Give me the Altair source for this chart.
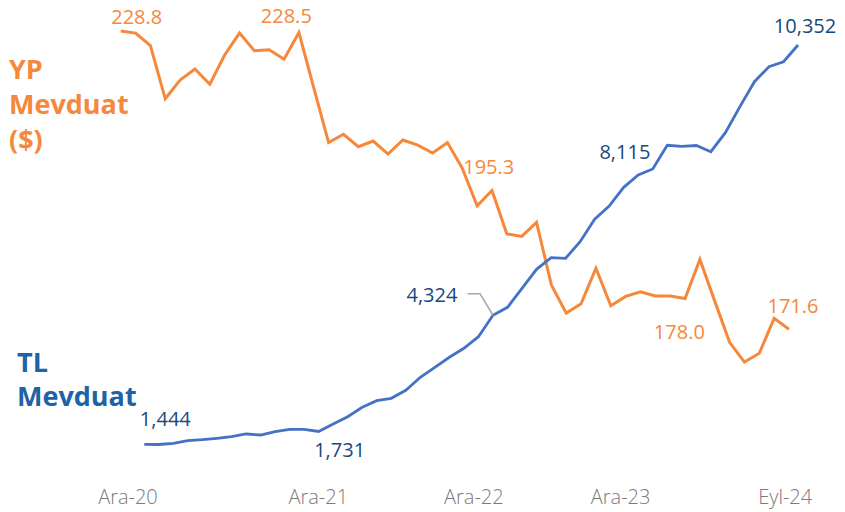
import altair as alt
import pandas as pd

# Monthly series, Ara-20 (Dec 2020) .. Eyl-24 (Sep 2024)
months = list(range(46))
yp_values = [228.8, 228.4, 226.0, 215.8, 219.4, 221.5, 218.6, 224.2, 228.4, 225.0, 225.2, 223.4,
             228.5, 217.9, 207.4, 209.0, 206.6, 207.7, 205.2, 207.9, 206.9, 205.4, 207.4, 202.5,
             195.3, 198.2, 189.9, 189.4, 192.1, 180.1, 174.7, 176.5, 183.3, 176.1, 177.9, 178.8,
             178.0, 178.0, 177.5, 185.0, 177.0, 169.1, 165.3, 167.0, 173.7, 171.6]
tl_values = [1444, 1440, 1466, 1524, 1547, 1578, 1614, 1674, 1651, 1725, 1779, 1779,
             1731, 1897, 2060, 2269, 2417, 2470, 2650, 2939, 3162, 3385, 3586, 3844,
             4324, 4500, 4924, 5348, 5607, 5594, 5964, 6464, 6760, 7177, 7452, 7586,
             8115, 8090, 8110, 7972, 8395, 8976, 9533, 9868, 9979, 10352]
tick_positions = [-1.16, 11.94, 22.65, 32.75, 44.08]
tick_labels = ["Ara-20", "Ara-21", "Ara-22", "Ara-23", "Eyl-24"]
yp_label_months = [0, 12, 24, 36, 45]
tl_label_months = [0, 12, 24, 36, 45]
leader_x = [22.26, 23.11, 24]
leader_y = [4804, 4804, 4324]

ORANGE = "#F5883A"
BLUE_LINE = "#4472C4"
BLUE_TEXT = "#17497F"
BLUE_TITLE = "#1E62A8"
FONT = "Open Sans"

df = pd.DataFrame({"m": months, "yp": yp_values, "tl": tl_values})

W, H = 829, 466
x_or = alt.Scale(domain=[-7.589, 48.232], nice=False, zero=False)
x_bl = alt.Scale(domain=[-9.383, 47.683], nice=False, zero=False)
y_or = alt.Scale(domain=[143.85, 233.21], nice=False, zero=False)
y_bl = alt.Scale(domain=[781.4, 11177.4], nice=False, zero=False)

expr = "''"
for p, l in reversed(list(zip(tick_positions, tick_labels))):
    expr = f"abs(datum.value - {p}) < 0.5 ? '{l}' : " + expr

x_axis = alt.Axis(values=tick_positions, labelExpr=expr, domain=False, ticks=False, grid=False,
                  labelFont=FONT, labelFontSize=20, labelFontWeight=300, labelColor="#7A7A7A",
                  labelPadding=13, title=None, orient="bottom", labelFlush=False, labelOverlap=False)

base = alt.Chart(df)

orange_line = base.mark_line(color=ORANGE, strokeWidth=3).encode(
    x=alt.X("m:Q", scale=x_or, axis=None),
    y=alt.Y("yp:Q", scale=y_or, axis=None),
)
blue_line = base.mark_line(color=BLUE_LINE, strokeWidth=2.8).encode(
    x=alt.X("m:Q", scale=x_bl, axis=x_axis),
    y=alt.Y("tl:Q", scale=y_bl, axis=None),
)

leader = alt.Chart(pd.DataFrame({"m": leader_x, "tl": leader_y, "o": [0, 1, 2]})).mark_line(
    color="#A6A6A6", strokeWidth=1.6).encode(
    x=alt.X("m:Q", scale=x_bl, axis=x_axis),
    y=alt.Y("tl:Q", scale=y_bl, axis=None),
    order="o:Q",
)

yp_offsets = [(16, -13), (-12.6, -15.7), (11.6, -38), (24, 37), (4, -22.5)]
tl_offsets = [(21, -24), (21, 20), (-61, -19), (-42.4, 7.5), (7, -18)]

orange_labels = []
for mth, (dx, dy) in zip(yp_label_months, yp_offsets):
    orange_labels.append(
        base.transform_filter(alt.datum.m == mth).mark_text(
            font=FONT, fontSize=20, color=ORANGE, dx=dx, dy=dy, align="center", baseline="middle"
        ).encode(
            x=alt.X("m:Q", scale=x_or, axis=None),
            y=alt.Y("yp:Q", scale=y_or, axis=None),
            text=alt.Text("yp:Q", format=".1f"),
        )
    )
blue_labels = []
for mth, (dx, dy) in zip(tl_label_months, tl_offsets):
    blue_labels.append(
        base.transform_filter(alt.datum.m == mth).mark_text(
            font=FONT, fontSize=20, color=BLUE_TEXT, dx=dx, dy=dy, align="center", baseline="middle"
        ).encode(
            x=alt.X("m:Q", scale=x_bl, axis=x_axis),
            y=alt.Y("tl:Q", scale=y_bl, axis=None),
            text=alt.Text("tl:Q", format=",.0f"),
        )
    )

one = pd.DataFrame({"a": [0]})
yp_title = alt.Chart(one).mark_text(
    font=FONT, fontSize=27, fontWeight="bold", color=ORANGE, align="left",
    baseline="alphabetic", lineBreak="\n", lineHeight=35
).encode(x=alt.value(1), y=alt.value(71), text=alt.value("YP\nMevduat\n($)"))
tl_title = alt.Chart(one).mark_text(
    font=FONT, fontSize=27, fontWeight="bold", color=BLUE_TITLE, align="left",
    baseline="alphabetic", lineBreak="\n", lineHeight=33.5
).encode(x=alt.value(9), y=alt.value(364), text=alt.value("TL\nMevduat"))

orange_layer = alt.layer(orange_line, *orange_labels)
blue_layer = alt.layer(blue_line, leader, *blue_labels)

chart = alt.layer(orange_layer, blue_layer, yp_title, tl_title).resolve_scale(
    x="independent", y="independent"
).properties(
    width=W, height=H,
    autosize=alt.AutoSizeParams(type="none"),
    padding={"left": 0, "top": 0, "right": 0, "bottom": 38},
).configure_view(stroke=None)

chart.save("out.html", embed_options={"renderer": "svg", "actions": False})
